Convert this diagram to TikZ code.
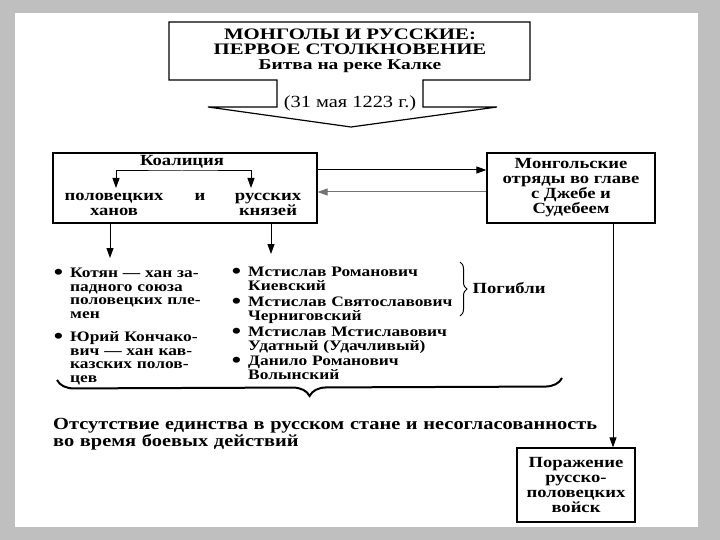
\documentclass[tikz,border=0pt]{standalone}
\usepackage{fontspec}
\setmainfont{Liberation Serif}[FakeStretch=1.2]
\newfontfamily\titlefont{Liberation Serif}[FakeStretch=1.3]
\usepackage{tikz}
\usetikzlibrary{positioning, arrows.meta, decorations.pathreplacing}

\newcommand{\itm}{\leavevmode\llap{\raisebox{-1.5pt}{\fontsize{22}{0}\selectfont\textbullet}\hspace{7pt}}}

\begin{document}
\begin{tikzpicture}[x=1pt, y=-1pt, >={Triangle[length=10pt, width=7pt]},
        txt/.style={inner sep=0pt, align=center, font=\bfseries\fontsize{15.5}{15}\selectfont},
        box/.style={txt, draw, line width=1.2pt},
        list/.style={anchor=north west, inner sep=0pt, align=left, font=\bfseries\fontsize{14.5}{13.5}\selectfont},
        arr/.style={->, line width=1pt}]
        \useasboundingbox (0,0) rectangle (720,540);
        \fill[black!25] (0,0) rectangle (720,540);
        \fill[white] (15,13) rectangle (698,527);

        % title with the arrow under it
        \draw[line width=1.2pt, line join=miter] (169,22) -- (530,22) -- (530,80) -- (423,80) -- (423,107)
            -- (497,107) -- (351,127) -- (208,107) -- (277,107) -- (277,80) -- (169,80) -- cycle;
        \node[txt, font=\titlefont\bfseries\fontsize{16}{15}\selectfont] (title) at (350,51)
            {МОНГОЛЫ И РУССКИЕ:\\ПЕРВОЕ СТОЛКНОВЕНИЕ\\{\fontsize{15}{15}\selectfont Битва на реке Калке}};
        \node[txt, font=\fontsize{17}{17}\selectfont] (date) at (350,103) {(31 мая 1223 г.)};

        % coalition
        \node[box, minimum width=264pt, minimum height=70pt] (koal) at (185,188) {};
        \node[txt] (koaltxt) at (182,162) {Коалиция};
        \node[txt] (polov) at (114,204) {половецких\\ханов};
        \node[txt] (i) at (200,197) {и};
        \node[txt] (rus) at (268,204) {русских\\князей};
        \coordinate (ka) at (116,188);
        \coordinate (kb) at (251,188);
        \coordinate (kc) at (182,171);
        \draw[<->, line width=1pt] (ka) |- (kc) -| (kb);

        \node[box, minimum width=168pt, minimum height=70pt] (mong) at (571,188)
            {Монгольские\\отряды во главе\\с Джебе и\\Судебеем};
        \node[box, minimum width=118pt, minimum height=74pt] (poraj) at (576,485)
            {Поражение\\русско-\\половецких\\войск};

        % lists
        \node[list, text width=160pt] (hany) at (70,268)
            {\itm Котян — хан за-\\падного союза\\половецких пле-\\мен\\[10pt]
             \itm Юрий Кончако-\\вич — хан кав-\\казских полов-\\цев};
        \node[list, text width=220pt] (knyaz) at (248,267)
            {\itm Мстислав Романович\\Киевский\\[3pt]
             \itm Мстислав Святославович\\Черниговский\\[3pt]
             \itm Мстислав Мстиславович\\Удатный (Удачливый)\\[2pt]
             \itm Данило Романович\\Волынский};
        \coordinate (la) at (110,258);
        \coordinate (lb) at (271,254);
        \coordinate (m1) at (613,222);

        \draw[line width=1pt, decorate, decoration={brace, amplitude=7pt}] (460,262) -- (460,316);
        \node[txt] (pogibli) at (509,288) {Погибли};

        \draw[line width=2pt, decorate, decoration={brace, amplitude=17pt}] (562,378) -- (57,380);
        \node[list, font=\bfseries\fontsize{17}{15}\selectfont, text width=600pt] (prichina) at (53,418)
            {Отсутствие единства в русском стане и несогласованность\\во время боевых действий};

        \path[arr]
        (koal.south -| la) edge (la)
        (koal.south -| lb) edge (lb)
        ([yshift=18pt]koal.east) edge ([yshift=18pt]mong.west)
        (m1) edge (m1 |- poraj.north);
        \draw[arr, black!55] ([yshift=-4pt]mong.west) -- ([yshift=-4pt]koal.east);
\end{tikzpicture}
\end{document}
